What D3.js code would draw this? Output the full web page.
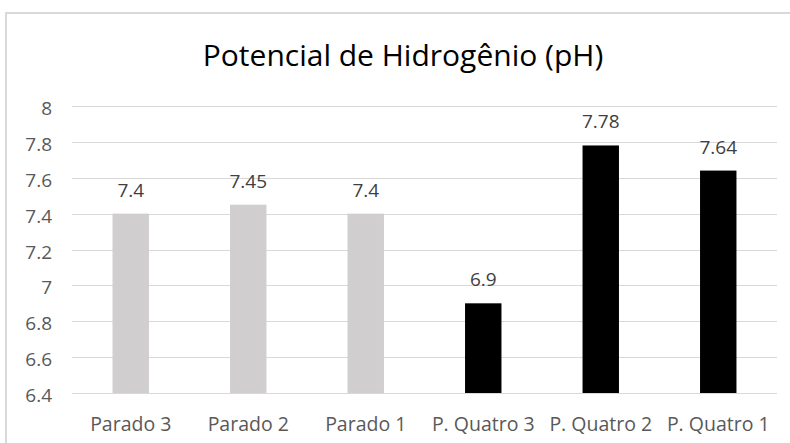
<!DOCTYPE html>
<html>
<head>
<meta charset="utf-8">
<script src="https://cdn.jsdelivr.net/npm/d3@7"></script>
<style>
  body { margin: 0; background: #fff; }
  text { font-family: "Open Sans", sans-serif; fill: #595959; }
</style>
</head>
<body>
<div class="chart"></div>
<script>
var categories = ["Parado 3", "Parado 2", "Parado 1", "P. Quatro 3", "P. Quatro 2", "P. Quatro 1"];
var phValues = [7.4, 7.45, 7.4, 6.9, 7.78, 7.64];
var barColors = ["#d0cece", "#d0cece", "#d0cece", "#000000", "#000000", "#000000"];
var yTicks = [6.4, 6.6, 6.8, 7, 7.2, 7.4, 7.6, 7.8, 8];

var W = 790, H = 443;
var margin = {top: 106, right: 13, bottom: 50, left: 72};
var width = W - margin.left - margin.right,
    height = 393 - margin.top;

var svg = d3.select(".chart").append("svg")
    .attr("width", W)
    .attr("height", H);

// chart area border (left + top only visible)
svg.append("path")
    .attr("d", "M6,443 V13 H790")
    .attr("fill", "none")
    .attr("stroke", "#d9d9d9")
    .attr("stroke-width", 2);

svg.append("text")
    .attr("x", 403)
    .attr("y", 66)
    .attr("text-anchor", "middle")
    .style("font-size", "30px")
    .style("fill", "#000")
    .text("Potencial de Hidrogênio (pH)");

var g = svg.append("g")
    .attr("transform", "translate(" + margin.left + "," + margin.top + ")");

var y = d3.scaleLinear().domain([6.4, 8]).range([height, 0]);
var x = d3.scaleBand().domain(categories).range([0, width]).paddingInner(0.69).paddingOuter(0.345);

// gridlines
g.append("g")
    .selectAll("line")
    .data(yTicks)
    .join("line")
    .attr("x1", 0)
    .attr("x2", width)
    .attr("y1", function(d){ return Math.round(y(d)) + 0.5; })
    .attr("y2", function(d){ return Math.round(y(d)) + 0.5; })
    .attr("stroke", "#d9d9d9")
    .attr("stroke-width", 1);

var yAxis = d3.axisLeft(y).tickValues(yTicks).tickSize(0).tickPadding(20)
    .tickFormat(function(d){ return String(+d.toFixed(1)); });
g.append("g")
    .call(yAxis)
    .call(function(a){ a.select(".domain").remove(); })
    .selectAll("text")
    .attr("dy", "0.45em")
    .style("font-size", "19px")
    .style("fill", "#595959");

var xAxis = d3.axisBottom(x).tickSize(0).tickPadding(24);
g.append("g")
    .attr("transform", "translate(0," + height + ")")
    .call(xAxis)
    .call(function(a){ a.select(".domain").remove(); })
    .selectAll("text")
    .style("font-size", "19.5px")
    .style("fill", "#595959");

var data = categories.map(function(c, i){ return {cat: c, v: phValues[i], color: barColors[i]}; });

g.selectAll(".bar")
    .data(data)
    .join("rect")
    .attr("class", "bar")
    .attr("x", function(d){ return x(d.cat); })
    .attr("width", x.bandwidth())
    .attr("y", function(d){ return y(d.v); })
    .attr("height", function(d){ return height - y(d.v); })
    .attr("fill", function(d){ return d.color; });

g.selectAll(".lbl")
    .data(data)
    .join("text")
    .attr("class", "lbl")
    .attr("x", function(d){ return x(d.cat) + x.bandwidth() / 2; })
    .attr("y", function(d){ return y(d.v) - 17; })
    .attr("text-anchor", "middle")
    .style("font-size", "19px")
    .style("fill", "#404040")
    .text(function(d){ return d.v; });
</script>
</body>
</html>
